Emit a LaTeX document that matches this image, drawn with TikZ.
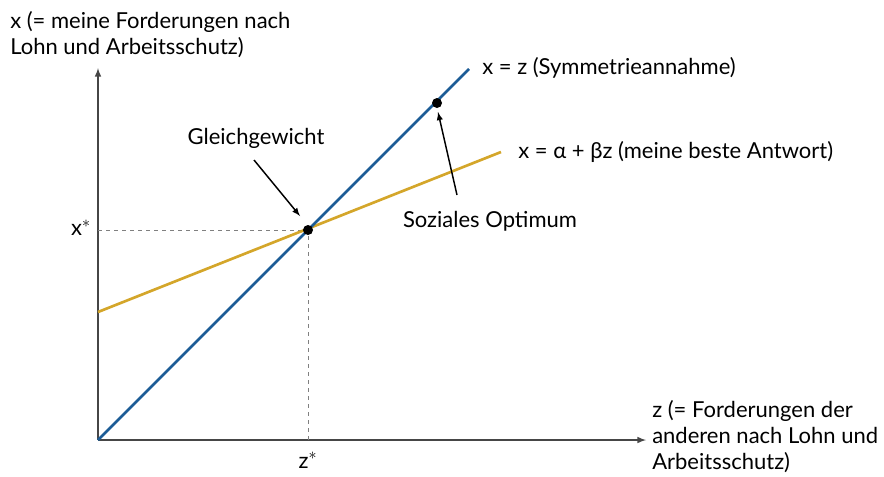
\documentclass[tikz,border=0pt]{standalone}
\usepackage{fontspec}
\setmainfont{Lato}
\usetikzlibrary{arrows}
\usetikzlibrary{positioning}
\definecolor{myblue}{RGB}{28,92,150}
\definecolor{mygold}{RGB}{212,166,42}
\definecolor{axisgray}{RGB}{70,70,70}

\begin{document}
\begin{tikzpicture}[x=0.75pt, y=-0.75pt, font=\fontsize{16.5}{19.5}\selectfont]
\useasboundingbox (0,0) rectangle (884,476);
\tikzset{
axis/.style={-latex, line width=1.2pt, color=axisgray},
curve/.style={line width=2pt},
guide/.style={dashed, line width=0.6pt, color=gray},
pointer/.style={-latex, line width=1.1pt},
lbl/.style={inner sep=0pt, align=left}
}

\coordinate (O) at (98,440);
\coordinate (ytop) at (98,68);
\coordinate (xend) at (646,440);
\coordinate (eq) at (308,230);
\coordinate (opt) at (437,103);
\coordinate (blueend) at (469,69);
\coordinate (goldstart) at (98,312);
\coordinate (goldend) at (501,152);

\draw[axis] (O) -- (ytop);
\draw[axis] (O) -- (xend);

\draw[guide] (O |- eq) -- (eq) -- (eq |- O);

\draw[curve, mygold] (goldstart) -- (goldend);
\draw[curve, myblue] (O) -- (blueend);

\fill (eq) circle (5);
\fill (opt) circle (5);

\node[lbl, anchor=north west] (ylabel) at (10,11) {x (= meine Forderungen nach\\Lohn und Arbeitsschutz)};
\node[lbl, anchor=west] (zlabel) at (652,437) {z (= Forderungen der\\anderen nach Lohn und\\Arbeitsschutz)};
\node[lbl, anchor=east] (xstar) at (91,228) {x$^*$};
\node[lbl, anchor=north] (zstar) at (308,452) {z$^*$};
\node[lbl, anchor=west] (symlabel) at (482,68) {x = z (Symmetrieannahme)};
\node[lbl, anchor=west] (brlabel) at (518,152) {x = α + βz (meine beste Antwort)};
\node[lbl] (gleich) at (256,138) {Gleichgewicht};
\node[lbl] (sozopt) at (490,221) {Soziales Optimum};

\coordinate (gleichtail) at (254,160);
\coordinate (gleichtip) at (300,216);
\coordinate (opttail) at (457,195);
\coordinate (opttip) at (438,112);
\draw[pointer] (gleichtail) -- (gleichtip);
\draw[pointer] (opttail) -- (opttip);
\end{tikzpicture}
\end{document}
